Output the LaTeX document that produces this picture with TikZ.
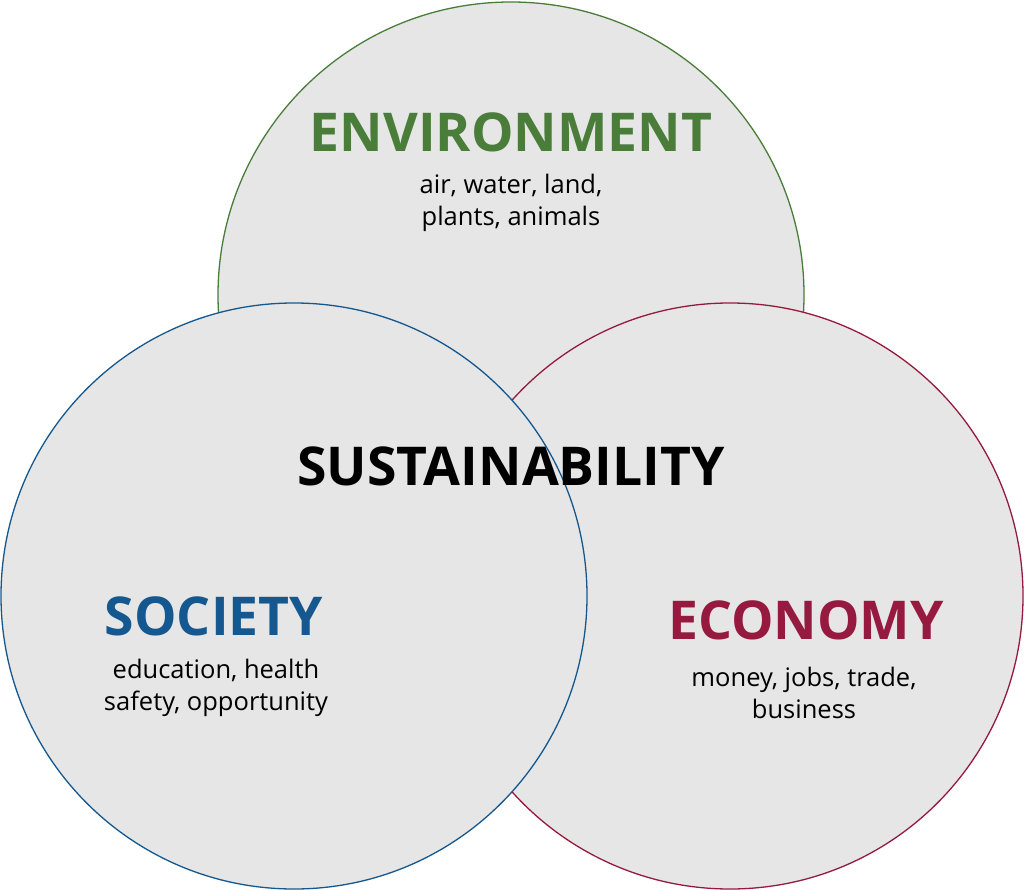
\documentclass[tikz,border=0pt]{standalone}
\usepackage{fontspec}
\setmainfont{Open Sans}
\definecolor{envgreen}{RGB}{74,125,58}
\definecolor{socblue}{RGB}{21,88,143}
\definecolor{ecored}{RGB}{150,26,64}
\definecolor{ringfill}{RGB}{230,230,230}
\tikzset{
  ring/.style={circle,draw,line width=1.3pt,fill=ringfill,minimum size=586pt,inner sep=0pt},
  heading/.style={font=\fontsize{53.5}{58}\selectfont\bfseries},
  keywords/.style={align=center,font=\fontsize{25.5}{32}\selectfont},
}
\begin{document}
\begin{tikzpicture}[x=1pt,y=-1pt]
  \useasboundingbox (0,0) rectangle (1024,890);

  \node[ring,draw=envgreen] (environment) at (511,295) {};
  \node[ring,draw=ecored]   (economy)     at (730,596) {};
  \node[ring,draw=socblue]  (society)     at (294,596) {};

  \node[heading,text=envgreen] (envtitle) at (511,132) {ENVIRONMENT};
  \node[keywords] (envwords) at (511,203) {air, water, land,\\plants, animals};

  \node[heading] (sustain) at (511,466) {SUSTAINABILITY};

  \node[heading,text=socblue] (soctitle) at (214,616) {SOCIETY};
  \node[keywords] (socwords) at (216,688) {education, health\\safety, opportunity};

  \node[heading,text=ecored] (ecotitle) at (806,620) {ECONOMY};
  \node[keywords] (ecowords) at (804,693) {money, jobs, trade,\\business};
\end{tikzpicture}
\end{document}
